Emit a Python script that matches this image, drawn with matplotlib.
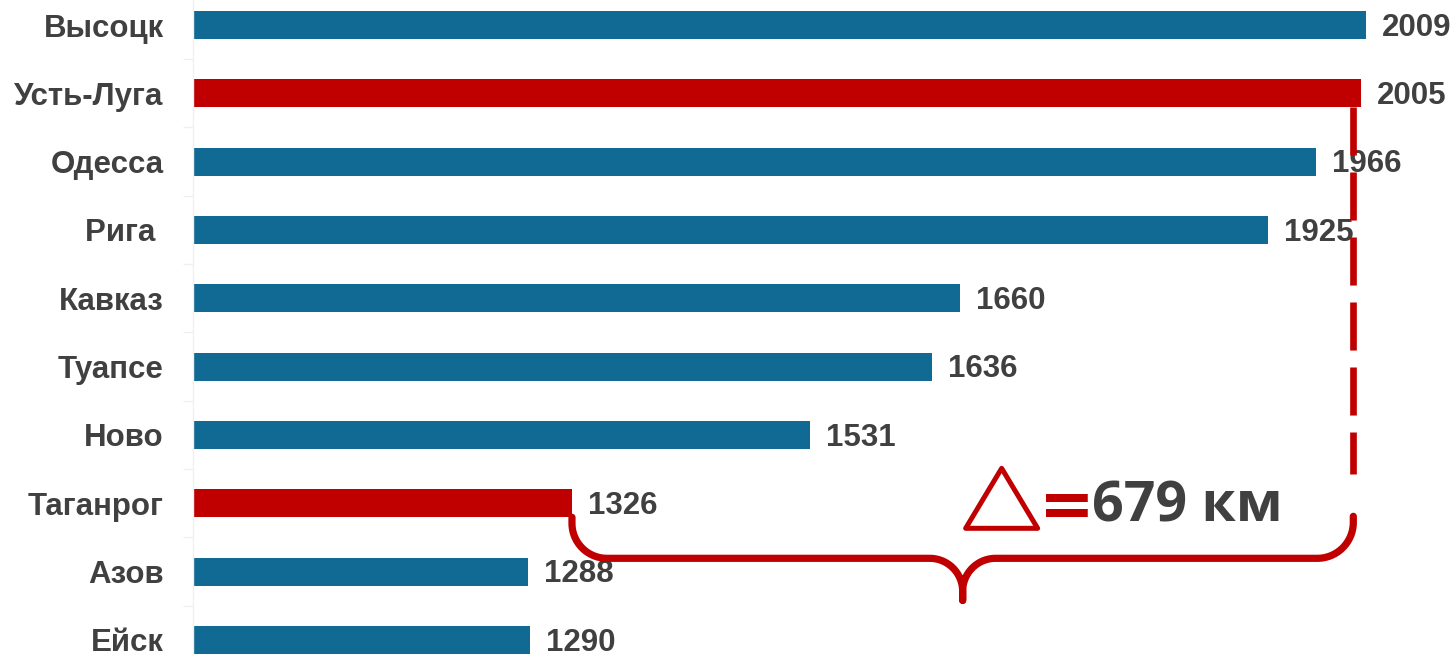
import numpy as np
import matplotlib
matplotlib.use("Agg")
import matplotlib.pyplot as plt
from matplotlib.patches import Polygon

# ---------------- data ----------------
ports = ["Высоцк", "Усть-Луга", "Одесса", "Рига ", "Кавказ", "Туапсе",
         "Ново", "Таганрог", "Азов", "Ейск"]
distances = [2009, 2005, 1966, 1925, 1660, 1636, 1531, 1326, 1288, 1290]
highlighted = ["Усть-Луга", "Таганрог"]
delta_label = "679 км"

# ---------------- style ----------------
BLUE = "#106A94"
RED = "#C00000"
TXT = "#404040"
W, H, DPI = 1454, 655, 100

fig = plt.figure(figsize=(W / DPI, H / DPI), dpi=DPI)
fig.patch.set_facecolor("white")

# axes geometry (pixels): left edge 193, row pitch 68.33, first row centre y=25
pitch = 68.33
top_px = 25 - pitch / 2
ax_h = pitch * len(ports)
ax = fig.add_axes([193 / W, (H - (top_px + ax_h)) / H, (W - 193) / W, ax_h / H])
ax.set_xlim(1000, 1000 + (W - 193) / 1.1625)
ax.set_ylim(len(ports) - 0.5, -0.5)

colors = [RED if p in highlighted else BLUE for p in ports]
ypos = np.arange(len(ports))
bars = ax.barh(ypos, np.array(distances) - 1000, left=1000, height=0.41,
               color=colors, edgecolor="none")

ax.set_yticks(ypos)
ax.set_yticklabels(ports, fontsize=22.5, fontweight="bold", color=TXT,
                   fontfamily="Liberation Sans")
ax.tick_params(axis="y", which="major", length=0, pad=21)
ax.set_yticks(ypos[:-1] + 0.5, minor=True)
ax.tick_params(axis="y", which="minor", length=7, color="#F0F0F0", width=1)
ax.set_xticks([])
for s in ["top", "right", "bottom"]:
    ax.spines[s].set_visible(False)
ax.spines["left"].set_color("#F0F0F0")
ax.spines["left"].set_linewidth(1)

for y, v in zip(ypos, distances):
    ax.annotate(str(v), xy=(v, y), xytext=(11.5, -2), textcoords="offset points",
                ha="left", va="center", fontsize=22.5, fontweight="bold",
                color=TXT, fontfamily="Liberation Sans", annotation_clip=False)

# ---------------- brace annotation ----------------
inv = ax.transData.inverted()


def img2data(x, y):
    return inv.transform((x, H - y))


def disp_of(xv, yv):
    px, py = ax.transData.transform((xv, yv))
    return px, H - py  # image coords (y down)


iL = ports.index("Таганрог")
iR = ports.index("Усть-Луга")
xL, yLb = disp_of(distances[iL], iL + 0.205)
xR0, yRb = disp_of(distances[iR], iR + 0.205)
xR = xR0 - 8

yh = yLb + 41          # horizontal part of brace
r1, rc, r2 = 35, 33, 36
xm = (xL + xR) / 2
tip = yh + 42


def arc(cx, cy, r, a0, a1, n=30):
    t = np.linspace(np.radians(a0), np.radians(a1), n)
    return cx + r * np.cos(t), cy + r * np.sin(t)   # image coords (y down)


xs, ys = [xL], [yLb]
ax_, ay_ = arc(xL + r1, yh - r1, r1, 180, 90)
xs += list(ax_); ys += list(ay_)
ax_, ay_ = arc(xm - rc, yh + rc, rc, 270, 360)
xs += list(ax_); ys += list(ay_)
xs += [xm]; ys += [tip]
xs += [xm]; ys += [yh + rc]
ax_, ay_ = arc(xm + rc, yh + rc, rc, 180, 270)
xs += list(ax_); ys += list(ay_)
ax_, ay_ = arc(xR - r2, yh - r2, r2, 90, 0)
xs += list(ax_); ys += list(ay_)
xs += [xR]; ys += [yh - r2 - 6]

pts = np.array([img2data(x, y) for x, y in zip(xs, ys)])
ax.plot(pts[:, 0], pts[:, 1], color=RED, lw=5.2, solid_capstyle="round",
        solid_joinstyle="round", clip_on=False, zorder=3)

# dashed vertical up to the Усть-Луга bar
d_top = img2data(xR, yRb)
d_bot = img2data(xR, yh - r2 - 48)
ax.plot([d_top[0], d_bot[0]], [d_top[1], d_bot[1]], color=RED, lw=4.8,
        linestyle=(0, (34.6 / 4.8, 12.2 / 4.8)), dash_capstyle="butt",
        clip_on=False, zorder=3)

# delta symbol (triangle), '=' and value
tx0 = xm + 3
tri = np.array([img2data(tx0, yh - 30), img2data(tx0 + 36, yh - 90),
                img2data(tx0 + 72, yh - 30)])
ax.add_patch(Polygon(tri, closed=True, fill=False, edgecolor=RED, lw=3.6,
                     joinstyle="round", clip_on=False, zorder=3))
eq = img2data(tx0 + 73, yh - 31)
ax.text(eq[0], eq[1], "=", color=RED, fontsize=48, fontweight="bold",
        fontfamily="DejaVu Sans", ha="left", va="baseline", clip_on=False)
tv = img2data(tx0 + 126, yh - 37)
ax.text(tv[0], tv[1], delta_label, color=TXT, fontsize=40, fontweight="bold",
        fontfamily="Open Sans", ha="left", va="baseline", clip_on=False)

fig.savefig("out.png", dpi=DPI, facecolor="white")
